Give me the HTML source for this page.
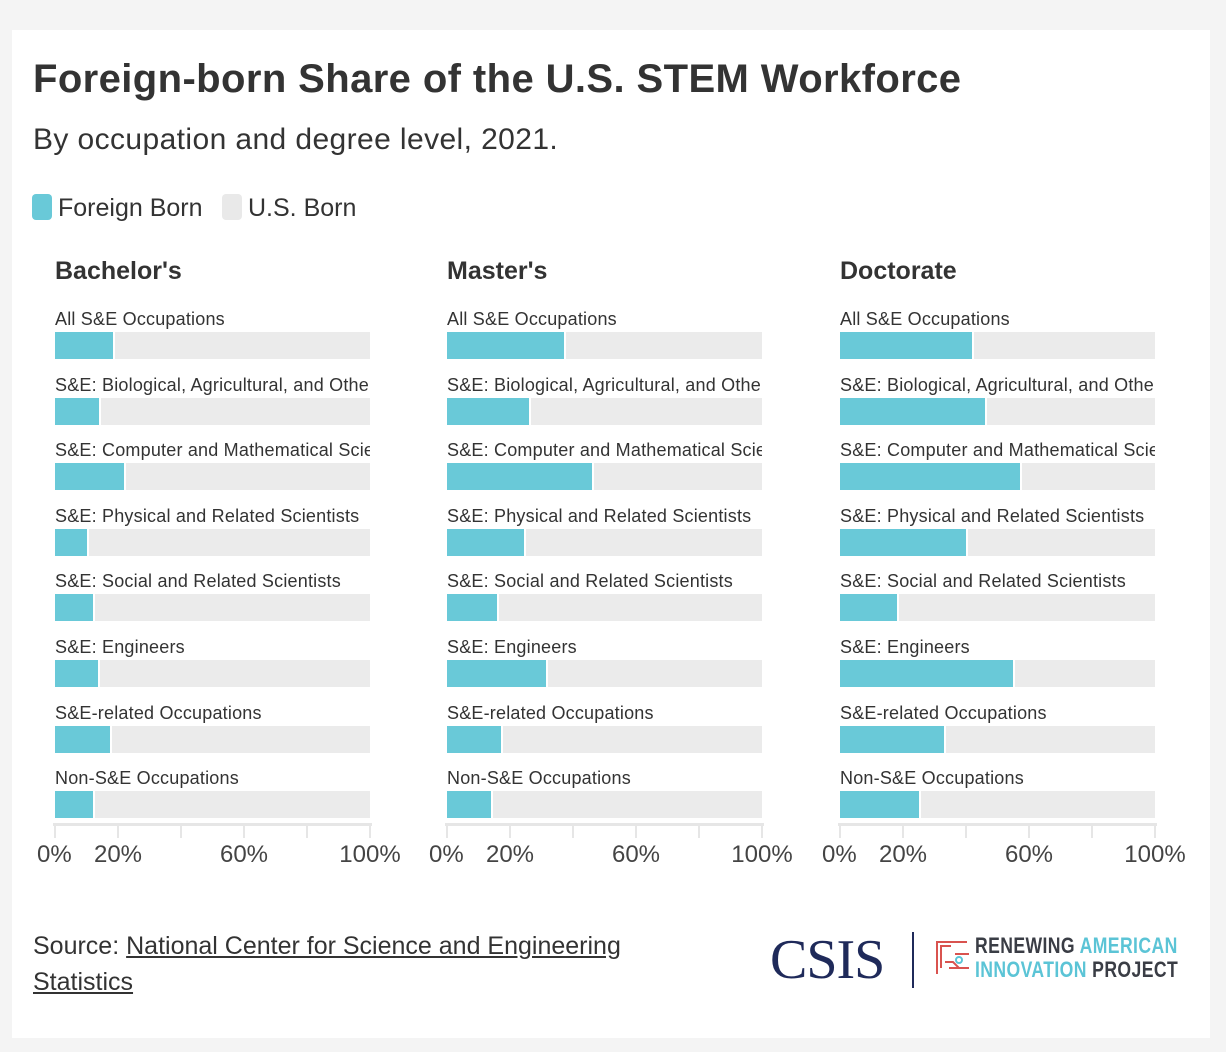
<!DOCTYPE html>
<html><head><meta charset="utf-8"><style>
body{margin:0;width:1226px;height:1052px;background:#f4f4f4;font-family:"Liberation Sans",sans-serif;color:#333;position:relative;overflow:hidden}
#card{position:absolute;left:12px;top:30px;width:1198px;height:1008px;background:#fff}
.abs{position:absolute;white-space:nowrap}
.lbl{position:absolute;font-size:18px;color:#333;overflow:hidden;white-space:nowrap;letter-spacing:0.2px}
</style></head><body>
<div id="card"></div>
<div class="abs" style="left:33px;top:57px;font-size:40px;font-weight:bold;color:#333;letter-spacing:0.4px">Foreign-born Share of the U.S. STEM Workforce</div>
<div class="abs" style="left:33px;top:123px;font-size:30px;color:#333;letter-spacing:0.4px">By occupation and degree level, 2021.</div>
<div class="abs" style="left:32px;top:194px;font-size:25px;color:#333"><span style="display:inline-block;width:20px;height:26px;background:#69c9d8;border-radius:4px;vertical-align:-4px;margin-right:6px"></span>Foreign Born</div>
<div class="abs" style="left:222px;top:194px;font-size:25px;color:#333"><span style="display:inline-block;width:20px;height:26px;background:#e9e9e9;border-radius:4px;vertical-align:-4px;margin-right:6px"></span>U.S. Born</div>
<div id="panels"></div>
<div class="abs" style="left:33px;top:928px;font-size:25px;line-height:36px;color:#333">Source: <span style="text-decoration:underline">National Center for Science and Engineering</span><br><span style="text-decoration:underline">Statistics</span></div>
<div class="abs" style="left:770px;top:928px;font-family:'Liberation Serif',serif;font-size:56px;color:#1f2a5a;letter-spacing:-1px">CSIS</div>
<div class="abs" style="left:912px;top:932px;width:2px;height:56px;background:#1f2a5a"></div>
<svg class="abs" style="left:935px;top:938px" width="38" height="40"><path d="M2 36V4h30M6 30V8h10M10 24h8l6 6h10M20 16h14M14 30h18" fill="none" stroke="#d9534f" stroke-width="2"/><circle cx="24" cy="22" r="3" fill="none" stroke="#5bc4d6" stroke-width="2"/></svg>
<div class="abs" style="left:975px;top:934px;font-size:22px;font-weight:bold;line-height:24px;transform:scaleX(0.8);transform-origin:left top;letter-spacing:0.5px"><span style="color:#3a3d45">RENEWING </span><span style="color:#5bc4d6">AMERICAN</span><br><span style="color:#5bc4d6">INNOVATION </span><span style="color:#3a3d45">PROJECT</span></div>
<script>
const categories=["All S&E Occupations","S&E: Biological, Agricultural, and Other","S&E: Computer and Mathematical Scientists","S&E: Physical and Related Scientists","S&E: Social and Related Scientists","S&E: Engineers","S&E-related Occupations","Non-S&E Occupations"];
const panelTitles=["Bachelor's","Master's","Doctorate"];
const bachelors=[18.4,14,22,10,12,13.7,17.5,12];
const masters=[37,26,46,24.5,16,31.5,17,14];
const doctorate=[42,46,57,40,18,55,33,25];
const tickValues=[0,20,40,60,80,100];
const tickLabels=["0%","20%","","60%","","100%"];
const series=[bachelors,masters,doctorate];
const panelLefts=[55,447,840];
const W=315, rowTop=332, rowStep=65.6, barH=27;
const host=document.getElementById('panels');
function x(v){return v/100*W;}
function mk(tag,style,name,inter,text){const e=document.createElement(tag);e.style.cssText=style;


if(text!==undefined)e.textContent=text;host.appendChild(e);return e;}
series.forEach((vals,p)=>{
  const L=panelLefts[p];
  mk('div',`position:absolute;left:${L}px;top:257px;font-size:25px;font-weight:bold;color:#333;white-space:nowrap`,'panel-title','false',panelTitles[p]);
  categories.forEach((c,i)=>{
    const y=rowTop+i*rowStep;
    const lb=mk('div',`left:${L}px;top:${y-23}px;width:${W}px;`,'row-label','false',c);lb.className='lbl';
    mk('div',`position:absolute;left:${L}px;top:${y}px;width:${W}px;height:${barH}px;background:#ebebeb`,'bar-us-born','true');
    mk('div',`position:absolute;left:${L}px;top:${y}px;width:${x(vals[i])}px;height:${barH}px;background:#69c9d8;border-right:2px solid #fff`,'bar-foreign-born','true');
  });
  mk('div',`position:absolute;left:${L-2}px;top:823px;width:${W+4}px;height:3px;background:#e6e6e6`,'x-axis-line','false');
  tickValues.forEach((t,k)=>{
    mk('div',`position:absolute;left:${L+x(t)-1}px;top:823px;width:2px;height:15px;background:#e6e6e6`,'x-tick','false');
    if(tickLabels[k]){const tl=mk('div',`position:absolute;left:${L+x(t)}px;top:841px;font-size:24px;color:#444;transform:translateX(-50%);white-space:nowrap`,'x-tick-label','false',tickLabels[k]);
      if(t===0){tl.style.transform='translateX(-18px)';}}
  });
});
</script>
</body></html>
